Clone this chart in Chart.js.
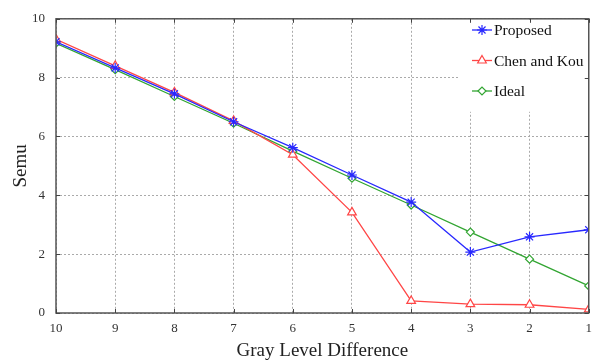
<!DOCTYPE html>
<html>
<head>
<meta charset="utf-8">
<script src="https://cdn.jsdelivr.net/npm/chart.js@4/dist/chart.umd.min.js"></script>
<style>
  body { margin: 0; background: #fff; }
  canvas { display: block; }
</style>
</head>
<body>
<canvas id="chart" width="600" height="362"></canvas>
<script>
// Data
const grayLevels = [10, 9, 8, 7, 6, 5, 4, 3, 2, 1];
const proposed   = [9.22, 8.33, 7.45, 6.5, 5.62, 4.69, 3.77, 2.07, 2.59, 2.83];
const chenKou    = [9.3, 8.4, 7.5, 6.53, 5.38, 3.42, 0.41, 0.3, 0.28, 0.12];
const ideal      = [9.17, 8.27, 7.36, 6.45, 5.5, 4.58, 3.67, 2.75, 1.83, 0.92];
const yTicks     = [0, 2, 4, 6, 8, 10];

const serif = '"Liberation Serif", "Times New Roman", serif';

function toPoints(values) {
  return grayLevels.map((x, i) => ({ x: x, y: values[i] }));
}

// Frame, inward ticks and legend box
const framePlugin = {
  id: "frame",
  afterDatasetsDraw(chart) {
    const ctx = chart.ctx;
    const a = chart.chartArea;
    const xs = chart.scales.x, ys = chart.scales.y;

    // legend
    const lx = 458, ly = a.top + 1, lw = a.right - lx, lh = 92;
    ctx.save();
    ctx.fillStyle = "#fff";
    ctx.fillRect(lx, ly, lw, lh);
    ctx.font = "15.5px " + serif;
    ctx.textBaseline = "middle";
    chart.data.datasets.forEach((ds, i) => {
      const y = 30 + i * 30.5;
      ctx.strokeStyle = ds.borderColor;
      ctx.lineWidth = ds.borderWidth;
      ctx.beginPath();
      ctx.moveTo(472, y);
      ctx.lineTo(492, y);
      ctx.stroke();
      ctx.fillStyle = ds.pointBackgroundColor;
      ctx.lineWidth = ds.pointBorderWidth;
      Chart.helpers.drawPoint(ctx, {
        pointStyle: ds.pointStyle,
        radius: ds.pointRadius,
        borderWidth: ds.pointBorderWidth
      }, 482, y);
      ctx.fillStyle = "#111";
      ctx.fillText(ds.label, 494, y + 1);
    });
    ctx.restore();

    // frame
    ctx.save();
    ctx.strokeStyle = "#555";
    ctx.lineWidth = 1.5;
    ctx.strokeRect(a.left, a.top, a.right - a.left, a.bottom - a.top);
    ctx.lineWidth = 1;
    ctx.strokeStyle = "#444";
    grayLevels.forEach(v => {
      const px = Math.round(xs.getPixelForValue(v)) + 0.5;
      ctx.beginPath();
      ctx.moveTo(px, a.bottom); ctx.lineTo(px, a.bottom - 4);
      ctx.moveTo(px, a.top); ctx.lineTo(px, a.top + 4);
      ctx.stroke();
    });
    yTicks.forEach(v => {
      const py = Math.round(ys.getPixelForValue(v)) + 0.5;
      ctx.beginPath();
      ctx.moveTo(a.left, py); ctx.lineTo(a.left + 4, py);
      ctx.moveTo(a.right, py); ctx.lineTo(a.right - 4, py);
      ctx.stroke();
    });
    ctx.restore();
  }
};

const ctx = document.getElementById("chart").getContext("2d");

new Chart(ctx, {
  type: "line",
  data: {
    datasets: [
      {
        label: "Proposed",
        data: toPoints(proposed),
        borderColor: "rgb(40,40,255)",
        pointBackgroundColor: "rgb(40,40,255)",
        pointStyle: "star",
        pointRadius: 5,
        pointBorderWidth: 1.2,
        borderWidth: 1.3
      },
      {
        label: "Chen and Kou",
        data: toPoints(chenKou),
        borderColor: "rgb(255,70,70)",
        pointBackgroundColor: "#fff",
        pointStyle: "triangle",
        pointRadius: 5,
        pointBorderWidth: 1.2,
        borderWidth: 1.3
      },
      {
        label: "Ideal",
        data: toPoints(ideal),
        borderColor: "rgb(50,165,50)",
        pointBackgroundColor: "#fff",
        pointStyle: "rectRot",
        pointRadius: 4,
        pointBorderWidth: 1.2,
        borderWidth: 1.3
      }
    ]
  },
  options: {
    responsive: false,
    animation: false,
    layout: { padding: { top: 14, right: 1, left: 0, bottom: 0 } },
    plugins: {
      legend: { display: false },
      tooltip: { enabled: false }
    },
    scales: {
      x: {
        type: "linear",
        reverse: true,
        min: 1,
        max: 10,
        afterFit: s => { s.height = 49; },
        grid: { color: "#aaa", drawTicks: false },
        border: { display: false, dash: [2, 2] },
        ticks: {
          stepSize: 1,
          padding: 8,
          color: "#333",
          font: { family: serif, size: 13 }
        },
        title: {
          display: true,
          text: "Gray Level Difference",
          color: "#222",
          padding: { top: 0, bottom: 0 },
          font: { family: serif, size: 19 }
        }
      },
      y: {
        min: 0,
        max: 10,
        afterFit: s => { s.width = 56; },
        grid: { color: "#aaa", drawTicks: false },
        border: { display: false, dash: [2, 2] },
        afterBuildTicks: s => { s.ticks = yTicks.map(v => ({ value: v })); },
        ticks: {
          padding: 11,
          color: "#333",
          font: { family: serif, size: 13 }
        },
        title: {
          display: true,
          text: "Semu",
          color: "#222",
          padding: { top: 10, bottom: 0 },
          font: { family: serif, size: 19 }
        }
      }
    }
  },
  plugins: [framePlugin]
});
</script>
</body>
</html>
